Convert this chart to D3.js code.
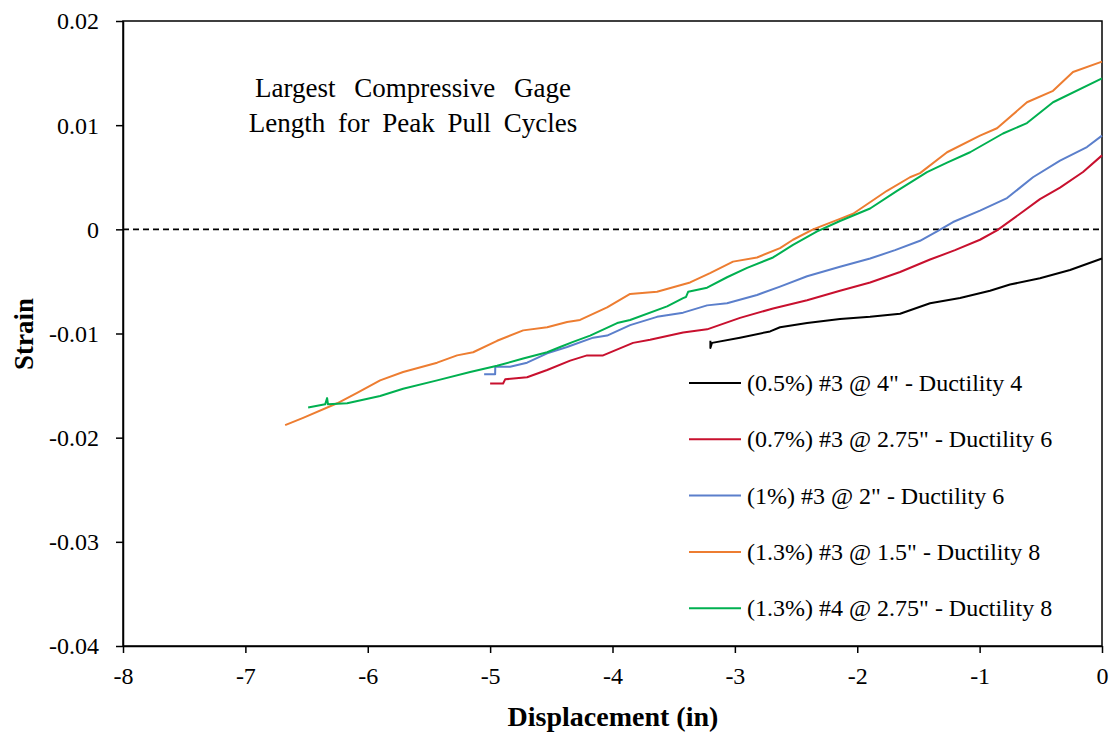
<!DOCTYPE html>
<html><head><meta charset="utf-8">
<script src="https://cdn.jsdelivr.net/npm/d3@7"></script>
<style>body{margin:0;background:#fff}svg{display:block}svg text{font-family:"Liberation Serif",Tinos,"Times New Roman",Times,"DejaVu Serif",serif !important;fill:#000}</style>
</head><body><svg id="c" width="1111" height="736"></svg>
<script>
// ---- data ----
const seriesNames = [
  '(0.5%) #3 @ 4" - Ductility 4',
  '(0.7%) #3 @ 2.75" - Ductility 6',
  '(1%) #3 @ 2" - Ductility 6',
  '(1.3%) #3 @ 1.5" - Ductility 8',
  '(1.3%) #4 @ 2.75" - Ductility 8'
];
const seriesColors = ["#000000", "#C8102E", "#5B7FCB", "#ED7D31", "#00B050"];
const xTicks = [-8, -7, -6, -5, -4, -3, -2, -1, 0];
const yTicks = [0.02, 0.01, 0, -0.01, -0.02, -0.03, -0.04];
const titleLines = ["Largest Compressive Gage", "Length for Peak Pull Cycles"];

const black = [[-3.20,-0.0107],[-3.20,-0.0114],[-3.19,-0.0110],[-3.186,-0.0109],[-2.958,-0.0104],[-2.712,-0.0098],[-2.631,-0.0094],[-2.410,-0.0090],[-2.141,-0.0086],[-1.895,-0.0084],[-1.650,-0.0081],[-1.405,-0.0071],[-1.160,-0.0066],[-0.915,-0.0059],[-0.752,-0.0053],[-0.507,-0.0047],[-0.261,-0.0039],[0,-0.0028]];
const red = [[-5.000,-0.0148],[-4.894,-0.0148],[-4.877,-0.0144],[-4.698,-0.0142],[-4.534,-0.0135],[-4.346,-0.0126],[-4.208,-0.0121],[-4.077,-0.0121],[-3.832,-0.0109],[-3.693,-0.0106],[-3.423,-0.0099],[-3.227,-0.0096],[-2.958,-0.0085],[-2.688,-0.0076],[-2.410,-0.0068],[-2.141,-0.0059],[-1.895,-0.0051],[-1.650,-0.0041],[-1.405,-0.0029],[-1.201,-0.0020],[-0.997,-0.0010],[-0.858,-0.0001],[-0.670,0.0015],[-0.507,0.0029],[-0.343,0.0040],[-0.155,0.0055],[0,0.0071]];
const blue = [[-5.049,-0.0139],[-4.959,-0.0139],[-4.958,-0.0132],[-4.837,-0.0132],[-4.698,-0.0128],[-4.534,-0.0119],[-4.371,-0.0113],[-4.158,-0.0104],[-4.044,-0.0102],[-3.856,-0.0092],[-3.636,-0.0084],[-3.423,-0.0080],[-3.227,-0.0073],[-3.064,-0.0071],[-2.819,-0.0063],[-2.631,-0.0055],[-2.410,-0.0045],[-2.141,-0.0036],[-1.895,-0.0028],[-1.691,-0.0020],[-1.487,-0.0011],[-1.348,-0.0002],[-1.217,0.0007],[-0.997,0.0018],[-0.776,0.0030],[-0.564,0.0050],[-0.343,0.0066],[-0.123,0.0079],[0,0.0090]];
const orange = [[-6.675,-0.0188],[-6.528,-0.0181],[-6.250,-0.0167],[-6.087,-0.0157],[-5.899,-0.0145],[-5.711,-0.0137],[-5.433,-0.0128],[-5.270,-0.0121],[-5.139,-0.0118],[-4.943,-0.0107],[-4.730,-0.0097],[-4.534,-0.0094],[-4.371,-0.0089],[-4.265,-0.0087],[-4.044,-0.0075],[-3.856,-0.0062],[-3.636,-0.0060],[-3.366,-0.0051],[-3.203,-0.0042],[-3.015,-0.0031],[-2.819,-0.0027],[-2.631,-0.0018],[-2.525,-0.0010],[-2.361,0.0000],[-2.141,0.0010],[-2.034,0.0015],[-1.757,0.0037],[-1.569,0.0050],[-1.487,0.0054],[-1.266,0.0074],[-0.997,0.0090],[-0.858,0.0097],[-0.613,0.0122],[-0.400,0.0133],[-0.237,0.0151],[0,0.0161]];
const green = [[-6.487,-0.0171],[-6.348,-0.0168],[-6.332,-0.0162],[-6.325,-0.0168],[-6.168,-0.0167],[-5.899,-0.0160],[-5.711,-0.0153],[-5.433,-0.0145],[-5.163,-0.0137],[-4.943,-0.0131],[-4.730,-0.0124],[-4.534,-0.0118],[-4.428,-0.0113],[-4.322,-0.0108],[-4.183,-0.0102],[-3.962,-0.0090],[-3.856,-0.0087],[-3.554,-0.0074],[-3.423,-0.0066],[-3.400,-0.0065],[-3.382,-0.0060],[-3.227,-0.0056],[-3.064,-0.0046],[-2.900,-0.0037],[-2.688,-0.0027],[-2.525,-0.0015],[-2.328,-0.0002],[-2.141,0.0008],[-1.895,0.0020],[-1.675,0.0037],[-1.430,0.0055],[-1.266,0.0064],[-1.078,0.0074],[-0.809,0.0092],[-0.613,0.0102],[-0.400,0.0122],[0,0.0145]];
const seriesData = [black, red, blue, orange, green];

// ---- layout ----
const FONT = '"Liberation Serif", Tinos, "Times New Roman", Times, "DejaVu Serif", serif';
const svg = d3.select("#c");
const L = 123, R = 1102, T = 21, B = 646;
const x = d3.scaleLinear().domain([-8, 0]).range([L, R]);
const y = d3.scaleLinear().domain([-0.04, 0.02]).range([B, T]);
const hy = s => s.replace(/\u2212/g, "-");

// frame
svg.append("rect").attr("x", L).attr("y", T).attr("width", R - L).attr("height", B - T)
  .attr("fill", "none").attr("stroke", "#000").attr("stroke-width", 1.5);

// axes
const xAxis = svg.append("g").attr("transform", `translate(0,${B})`)
  .call(d3.axisBottom(x).tickValues(xTicks).tickSizeInner(7).tickSizeOuter(0).tickPadding(14)
    .tickFormat(d => d === 0 ? "0" : hy(d3.format("d")(d))));
const yAxis = svg.append("g").attr("transform", `translate(${L},0)`)
  .call(d3.axisLeft(y).tickValues(yTicks).tickSizeInner(7).tickSizeOuter(0).tickPadding(17)
    .tickFormat(d => d === 0 ? "0" : hy(d3.format(".2f")(d))));
[xAxis, yAxis].forEach(g => {
  g.attr("font-family", FONT).attr("font-size", 24);
  g.select(".domain").attr("stroke", "#000").attr("stroke-width", 1.5);
  g.selectAll(".tick line").attr("stroke", "#000").attr("stroke-width", 1.5);
  g.selectAll(".tick text").attr("font-family", FONT).attr("font-size", 24).attr("fill", "#000");
});
xAxis.selectAll(".tick text").attr("dy", "0.71em");
yAxis.selectAll(".tick text").attr("dy", "0.33em");

// zero line
svg.append("line").attr("x1", L).attr("x2", R).attr("y1", y(0)).attr("y2", y(0))
  .attr("stroke", "#000").attr("stroke-width", 1.8).attr("stroke-dasharray", "6,4");

// series
const line = d3.line().x(d => x(d[0])).y(d => y(d[1]));
seriesData.forEach((s, i) => {
  svg.append("path").datum(s).attr("d", line).attr("fill", "none")
    .attr("stroke", seriesColors[i]).attr("stroke-width", 2).attr("stroke-linejoin", "round");
});

// axis titles
svg.append("text").attr("x", 613).attr("y", 726).attr("text-anchor", "middle")
  .attr("font-family", FONT).attr("font-size", 28).attr("font-weight", "bold").text("Displacement (in)");
svg.append("text").attr("transform", `translate(33,334) rotate(-90)`).attr("text-anchor", "middle")
  .attr("font-family", FONT).attr("font-size", 27).attr("font-weight", "bold").text("Strain");

// chart annotation title
const wordSp = [12, 6];
titleLines.forEach((t, i) => {
  svg.append("text").attr("x", 413).attr("y", 97 + i * 35).attr("text-anchor", "middle")
    .attr("font-family", FONT).attr("font-size", 27).style("word-spacing", wordSp[i] + "px").text(t);
});

// legend
const lg = svg.append("g");
seriesNames.forEach((n, i) => {
  const yy = 383 + i * 56.3;
  lg.append("line").attr("x1", 689).attr("x2", 741).attr("y1", yy).attr("y2", yy)
    .attr("stroke", seriesColors[i]).attr("stroke-width", 2);
  lg.append("text").attr("x", 747).attr("y", yy).attr("dy", "0.33em")
    .attr("font-family", FONT).attr("font-size", 24).text(n);
});
</script></body></html>
